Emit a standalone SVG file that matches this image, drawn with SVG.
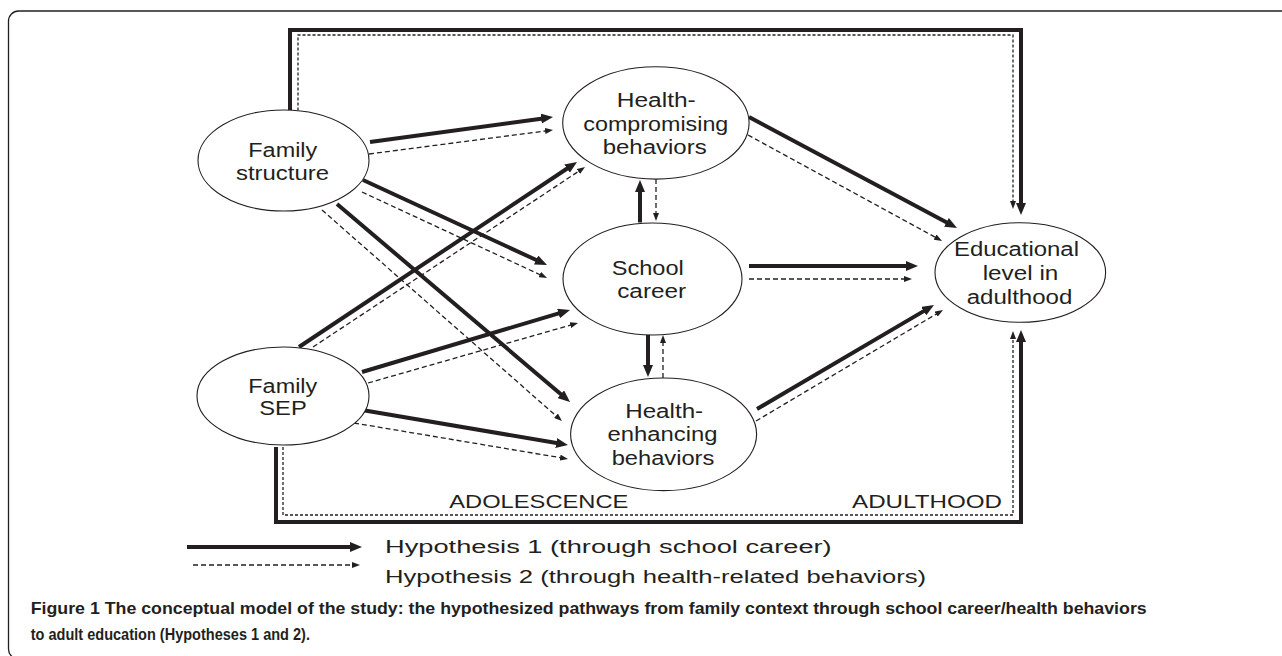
<svg xmlns="http://www.w3.org/2000/svg" width="1282" height="656" viewBox="0 0 1282 656">
<style>
.node ellipse{fill:#fff;stroke:#231f20;stroke-width:1.1}
.lbl{font-family:"Liberation Sans",Arial,sans-serif;font-size:19.5px;fill:#231f20;text-anchor:middle}
.stage{font-family:"Liberation Sans",Arial,sans-serif;font-size:18.5px;fill:#231f20}
.leg{font-family:"Liberation Sans",Arial,sans-serif;font-size:17.5px;fill:#231f20}
.cap{font-family:"Liberation Sans",Arial,sans-serif;font-size:17px;font-weight:bold;fill:#231f20}
.t{fill:none;stroke:#231f20;stroke-width:4;marker-end:url(#ah1)}
.d{fill:none;stroke:#231f20;stroke-width:1.3;stroke-dasharray:5 3;marker-end:url(#ah2)}
.df{stroke-dasharray:3 2}
</style>
<defs>
<marker id="ah1" viewBox="0 0 12 10" refX="2" refY="5" markerWidth="12" markerHeight="10" markerUnits="userSpaceOnUse" orient="auto">
<path d="M0,0 L12,5 L0,10 z" fill="#231f20"/>
</marker>
<marker id="ah2" viewBox="0 0 8 6" refX="1" refY="3" markerWidth="8" markerHeight="6" markerUnits="userSpaceOnUse" orient="auto">
<path d="M0,0 L8,3 L0,6 z" fill="#231f20"/>
</marker>
</defs>
<rect x="8.5" y="11" width="1300" height="648" rx="10" fill="#fff" stroke="#231f20" stroke-width="1.3"/>
<g id="connectors">
<path class="t" d="M290,110 V30 H1021 V205"/>
<path class="d df" d="M298,110.5 V35 H1013 V202"/>
<path class="t" d="M276,447 V522 H1021 V340"/>
<path class="d df" d="M283,447 V515 H1013 V338"/>
<path class="t" d="M370,142 L543.1,118.4"/>
<path class="d" d="M369,154 L546.1,130.9"/>
<path class="t" d="M363,180 L537.9,260.8"/>
<path class="d" d="M362,192 L540.7,275"/>
<path class="t" d="M337,204 L562.4,395.5"/>
<path class="d" d="M322,210 L556.7,416.4"/>
<path class="t" d="M299,347 L568.7,167.5"/>
<path class="d" d="M313,347 L579.2,170.9"/>
<path class="t" d="M362,372 L560.4,312.9"/>
<path class="d" d="M368,383 L571.3,324.9"/>
<path class="t" d="M362,410 L558.1,443.3"/>
<path class="d" d="M354,423 L561.1,457.8"/>
<path class="t" d="M749,117 L948.2,223.3"/>
<path class="d" d="M748,135 L935.9,237.6"/>
<path class="t" d="M749,266 L908,266"/>
<path class="d" d="M749,279 L905,279"/>
<path class="t" d="M757,409 L925.4,310.1"/>
<path class="d" d="M756,421 L937,313.6"/>
<path class="t" d="M640,222.5 L640,190"/>
<path class="d" d="M656,179 L656,214"/>
<path class="t" d="M648,335 L648,367"/>
<path class="d" d="M663,378 L663,342"/>
</g>
<g id="family-structure" class="node">
<ellipse cx="283.5" cy="160.5" rx="85.5" ry="50.5"/>
<text class="lbl" x="282.8" y="157" textLength="69" lengthAdjust="spacingAndGlyphs">Family</text>
<text class="lbl" x="282.5" y="180" textLength="93" lengthAdjust="spacingAndGlyphs">structure</text>
</g>
<g id="family-sep" class="node">
<ellipse cx="283" cy="396" rx="86" ry="49"/>
<text class="lbl" x="282.8" y="392.7" textLength="69" lengthAdjust="spacingAndGlyphs">Family</text>
<text class="lbl" x="283" y="415" textLength="47.4" lengthAdjust="spacingAndGlyphs">SEP</text>
</g>
<g id="health-compromising" class="node">
<ellipse cx="655.9" cy="122.9" rx="93.2" ry="56.2"/>
<text class="lbl" x="656.3" y="107" textLength="79" lengthAdjust="spacingAndGlyphs">Health-</text>
<text class="lbl" x="655.8" y="131" textLength="145" lengthAdjust="spacingAndGlyphs">compromising</text>
<text class="lbl" x="654.7" y="154" textLength="104" lengthAdjust="spacingAndGlyphs">behaviors</text>
</g>
<g id="school-career" class="node">
<ellipse cx="652.5" cy="279" rx="89.5" ry="56"/>
<text class="lbl" x="647.8" y="275" textLength="72" lengthAdjust="spacingAndGlyphs">School</text>
<text class="lbl" x="651.7" y="298" textLength="69" lengthAdjust="spacingAndGlyphs">career</text>
</g>
<g id="health-enhancing" class="node">
<ellipse cx="663.6" cy="434.3" rx="93" ry="56.3"/>
<text class="lbl" x="664.2" y="418" textLength="78" lengthAdjust="spacingAndGlyphs">Health-</text>
<text class="lbl" x="662.5" y="441" textLength="110" lengthAdjust="spacingAndGlyphs">enhancing</text>
<text class="lbl" x="663" y="464.5" textLength="102.7" lengthAdjust="spacingAndGlyphs">behaviors</text>
</g>
<g id="educational-level" class="node">
<ellipse cx="1020.3" cy="272.5" rx="85.3" ry="49.8"/>
<text class="lbl" x="1016.5" y="255.7" textLength="125" lengthAdjust="spacingAndGlyphs">Educational</text>
<text class="lbl" x="1020.5" y="280" textLength="75.6" lengthAdjust="spacingAndGlyphs">level in</text>
<text class="lbl" x="1019.5" y="304" textLength="105.6" lengthAdjust="spacingAndGlyphs">adulthood</text>
</g>
<g id="stages">
<text class="stage" x="449.3" y="508" textLength="179" lengthAdjust="spacingAndGlyphs">ADOLESCENCE</text>
<text class="stage" x="852" y="508" textLength="150" lengthAdjust="spacingAndGlyphs">ADULTHOOD</text>
</g>
<g id="legend">
<path class="t" d="M187,547 L352,547"/>
<path class="d" d="M193,565 L353,565" stroke-dasharray="4 3"/>
<text class="leg" x="385" y="552.5" textLength="446.7" lengthAdjust="spacingAndGlyphs">Hypothesis 1 (through school career)</text>
<text class="leg" x="385" y="583" textLength="541" lengthAdjust="spacingAndGlyphs">Hypothesis 2 (through health-related behaviors)</text>
</g>
<g id="caption">
<text class="cap" x="30.7" y="614" textLength="1116" lengthAdjust="spacingAndGlyphs">Figure 1 The conceptual model of the study: the hypothesized pathways from family context through school career/health behaviors</text>
<text class="cap" x="30.7" y="640" textLength="279.3" lengthAdjust="spacingAndGlyphs">to adult education (Hypotheses 1 and 2).</text>
</g>
</svg>
